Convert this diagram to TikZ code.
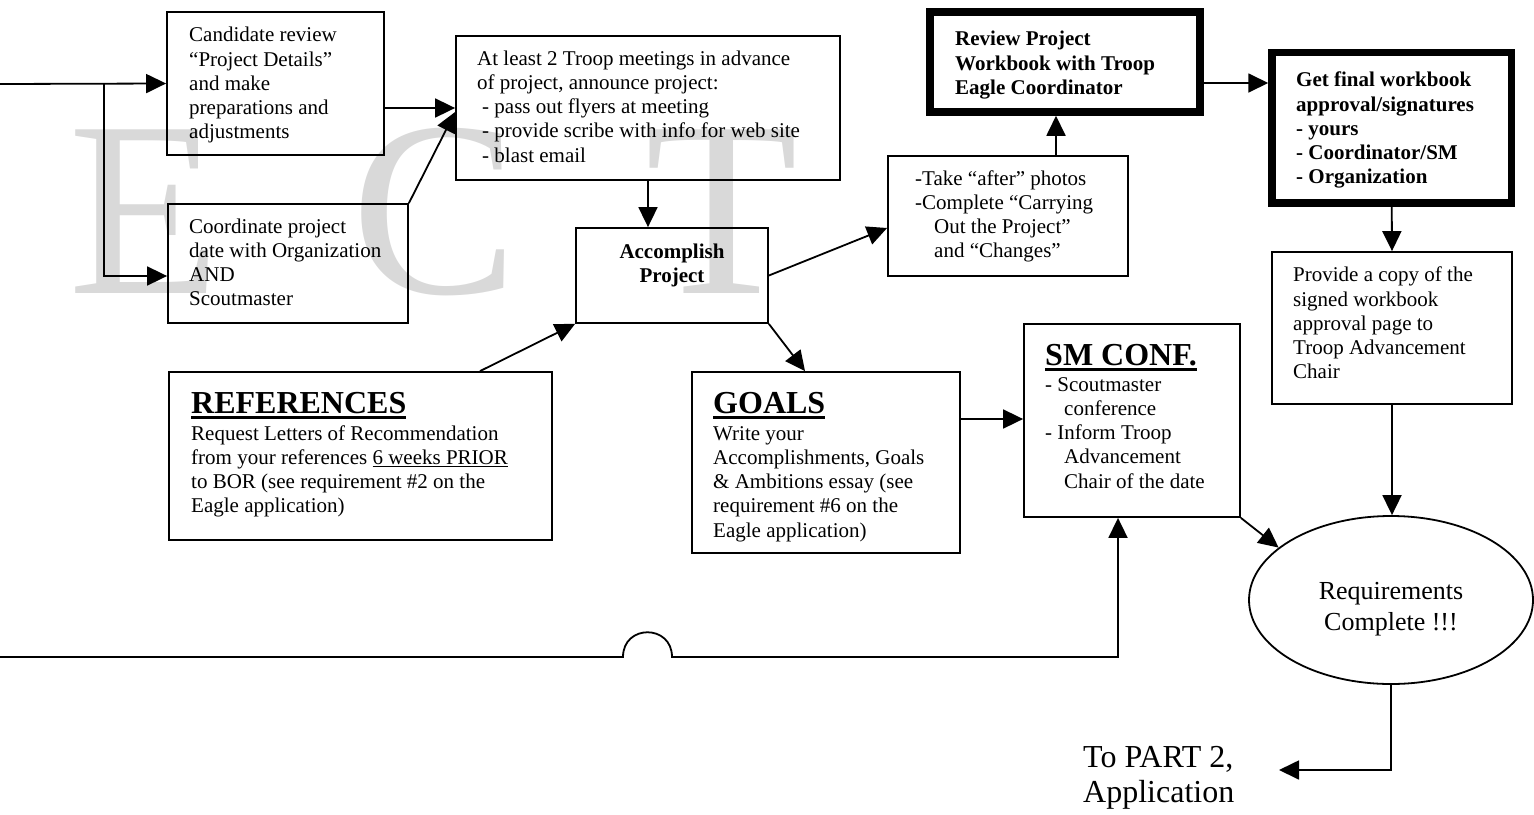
\documentclass[tikz,border=0pt]{standalone}
\usepackage{fontspec}
\setmainfont{Liberation Serif}
\usetikzlibrary{arrows.meta,shapes.geometric}
\definecolor{wm}{RGB}{217,217,217}
\newcommand\txl[1]{\begin{tabular}[t]{@{}l@{}}#1\end{tabular}}
\newcommand\txc[1]{\begin{tabular}[t]{@{}c@{}}#1\end{tabular}}
\newcommand\headul[1]{{\setbox0\hbox{#1}\rlap{\rule[-5.5pt]{\wd0}{3pt}}\box0}}
\newcommand\thinul[1]{{\setbox0\hbox{#1}\rlap{\rule[-3pt]{\wd0}{1pt}}\box0}}
\begin{document}
\begin{tikzpicture}[x=1pt,y=-1pt,
  box/.style={draw, rectangle, line width=1.8pt, inner sep=0pt},
  heavybox/.style={draw, rectangle, line width=7.5pt, inner sep=0pt},
  arr/.style={line width=1.8pt, -{Triangle[length=20pt,width=19pt]}},
  body/.style={inner sep=0pt, font=\fontsize{21}{24.3}\selectfont},
  bbody/.style={inner sep=0pt, font=\fontsize{21}{24.3}\selectfont\bfseries},
  head/.style={inner sep=0pt, font=\fontsize{32}{36}\selectfont\bfseries},
  wmark/.style={inner sep=0pt, text=wm, font=\fontsize{250}{250}\selectfont},
]
\useasboundingbox (0,0) rectangle (1534,814);

% watermark
\node[wmark, anchor=base west] (wE) at (68,293) {E};
\node[wmark, anchor=base west] (wC) at (351,293) {C};
\node[wmark, anchor=base west] (wT) at (645,293) {T};

% boxes
\node[box, minimum width=217pt, minimum height=143pt] (a) at (275.5,83.5) {};
\node[box, minimum width=240pt, minimum height=119pt] (b) at (288,263.5) {};
\node[box, minimum width=384pt, minimum height=144pt] (c) at (648,108) {};
\node[box, minimum width=192pt, minimum height=95pt] (acc) at (672,275.5) {};
\node[box, minimum width=240pt, minimum height=120pt] (aft) at (1008,216) {};
\node[heavybox, minimum width=270pt, minimum height=100pt] (rev) at (1065,62) {};
\node[heavybox, minimum width=239.5pt, minimum height=150.5pt] (gf) at (1391.75,127.75) {};
\node[box, minimum width=240pt, minimum height=152pt] (pr) at (1392,328) {};
\node[box, minimum width=383pt, minimum height=168pt] (ref) at (360.5,456) {};
\node[box, minimum width=268pt, minimum height=181pt] (goals) at (826,462.5) {};
\node[box, minimum width=216pt, minimum height=193pt] (sm) at (1132,420.5) {};
\node[draw, ellipse, line width=1.8pt, inner sep=0pt, minimum width=284pt, minimum height=168pt] (ell) at (1391,600) {};

% texts
\node[body, anchor=base west] (ta) at (189,41.7) {\txl{Candidate review\\“Project Details”\\and make\\preparations and\\adjustments}};
\node[body, anchor=base west] (tb) at (189,233) {\txl{Coordinate project\\date with Organization\\AND\\Scoutmaster}};
\node[body, anchor=base west] (tc) at (477,65) {\txl{At least 2 Troop meetings in advance\\of project, announce project:\\\hspace*{5pt}- pass out flyers at meeting\\\hspace*{5pt}- provide scribe with info for web site\\\hspace*{5pt}- blast email}};
\node[bbody, anchor=base] (tacc) at (672,258) {\txc{Accomplish\\Project}};
\node[body, anchor=base west] (taft) at (915,185) {\txl{-Take “after” photos\\-Complete “Carrying\\\hspace*{19pt}Out the Project”\\\hspace*{19pt}and “Changes”}};
\node[bbody, anchor=base west] (trev) at (955,45.7) {\txl{Review Project\\Workbook with Troop\\Eagle Coordinator}};
\node[bbody, anchor=base west] (tgf) at (1296,86.7) {\txl{Get final workbook\\approval/signatures\\- yours\\- Coordinator/SM\\- Organization}};
\node[body, anchor=base west] (tpr) at (1293,281.7) {\txl{Provide a copy of the\\signed workbook\\approval page to\\Troop Advancement\\Chair}};
\node[head, anchor=base west] (href) at (191,413) {\headul{REFERENCES}};
\node[body, anchor=base west] (tref) at (191,440) {\txl{Request Letters of Recommendation\\from your references \thinul{6 weeks PRIOR}\\to BOR (see requirement \#2 on the\\Eagle application)}};
\node[head, anchor=base west] (hgo) at (713,413) {\headul{GOALS}};
\node[body, anchor=base west] (tgo) at (713,440) {\txl{Write your\\Accomplishments, Goals\\\& Ambitions essay (see\\requirement \#6 on the\\Eagle application)}};
\node[head, anchor=base west] (hsm) at (1045,365) {\headul{SM CONF.}};
\node[body, anchor=base west] (tsm) at (1045,391) {\txl{- Scoutmaster\\\hspace*{19pt}conference\\- Inform Troop\\\hspace*{19pt}Advancement\\\hspace*{19pt}Chair of the date}};
\node[inner sep=0pt, anchor=base, font=\fontsize{26}{31}\selectfont] (tell) at (1391,599) {\txc{Requirements\\Complete !!!}};
\node[inner sep=0pt, anchor=base west, font=\fontsize{32}{35}\selectfont] (part) at (1083,767) {\txl{To PART 2,\\Application}};

% connectors
\coordinate (in) at (0,84);
\coordinate (br) at (104,84);
\coordinate (bl) at (0,657);
\coordinate (p2) at (1279,770);
\draw[arr] (in) -- (a.west);
\draw[arr] (br) |- ([yshift=-12.5pt]b.west);
\draw[arr] (a.east |- c.west) -- (c.west);
\draw[arr] (b.north east) -- ([yshift=-4pt]c.west);
\draw[arr] (c.south) -- (c.south |- acc.north);
\draw[arr] (acc.east) -- ([yshift=-12pt]aft.west);
\draw[arr] ([xshift=48pt]aft.north) -- ([xshift=48pt]aft.north |- rev.south);
\draw[arr] ([yshift=-21pt]rev.east) -- ([yshift=-21pt]rev.east -| gf.west);
\draw[arr] (gf.south) -- (pr.north);
\draw[arr] (pr.south) -- (pr.south |- ell.north);
\draw[arr] ([xshift=119.5pt]ref.north) -- (acc.south west);
\draw[arr] (acc.south east) -- ([xshift=-21pt]goals.north);
\draw[arr] ([yshift=43.5pt]goals.east) -- ([yshift=43.5pt]goals.east -| sm.west);
\draw[arr] (sm.south east) -- (ell.155);
\draw[arr] (ell.south) |- (p2);
\draw[arr] (bl) -- (623,657) .. controls (623,624) and (672,624) .. (672,657) -| ([xshift=-14pt]sm.south);
\end{tikzpicture}
\end{document}
